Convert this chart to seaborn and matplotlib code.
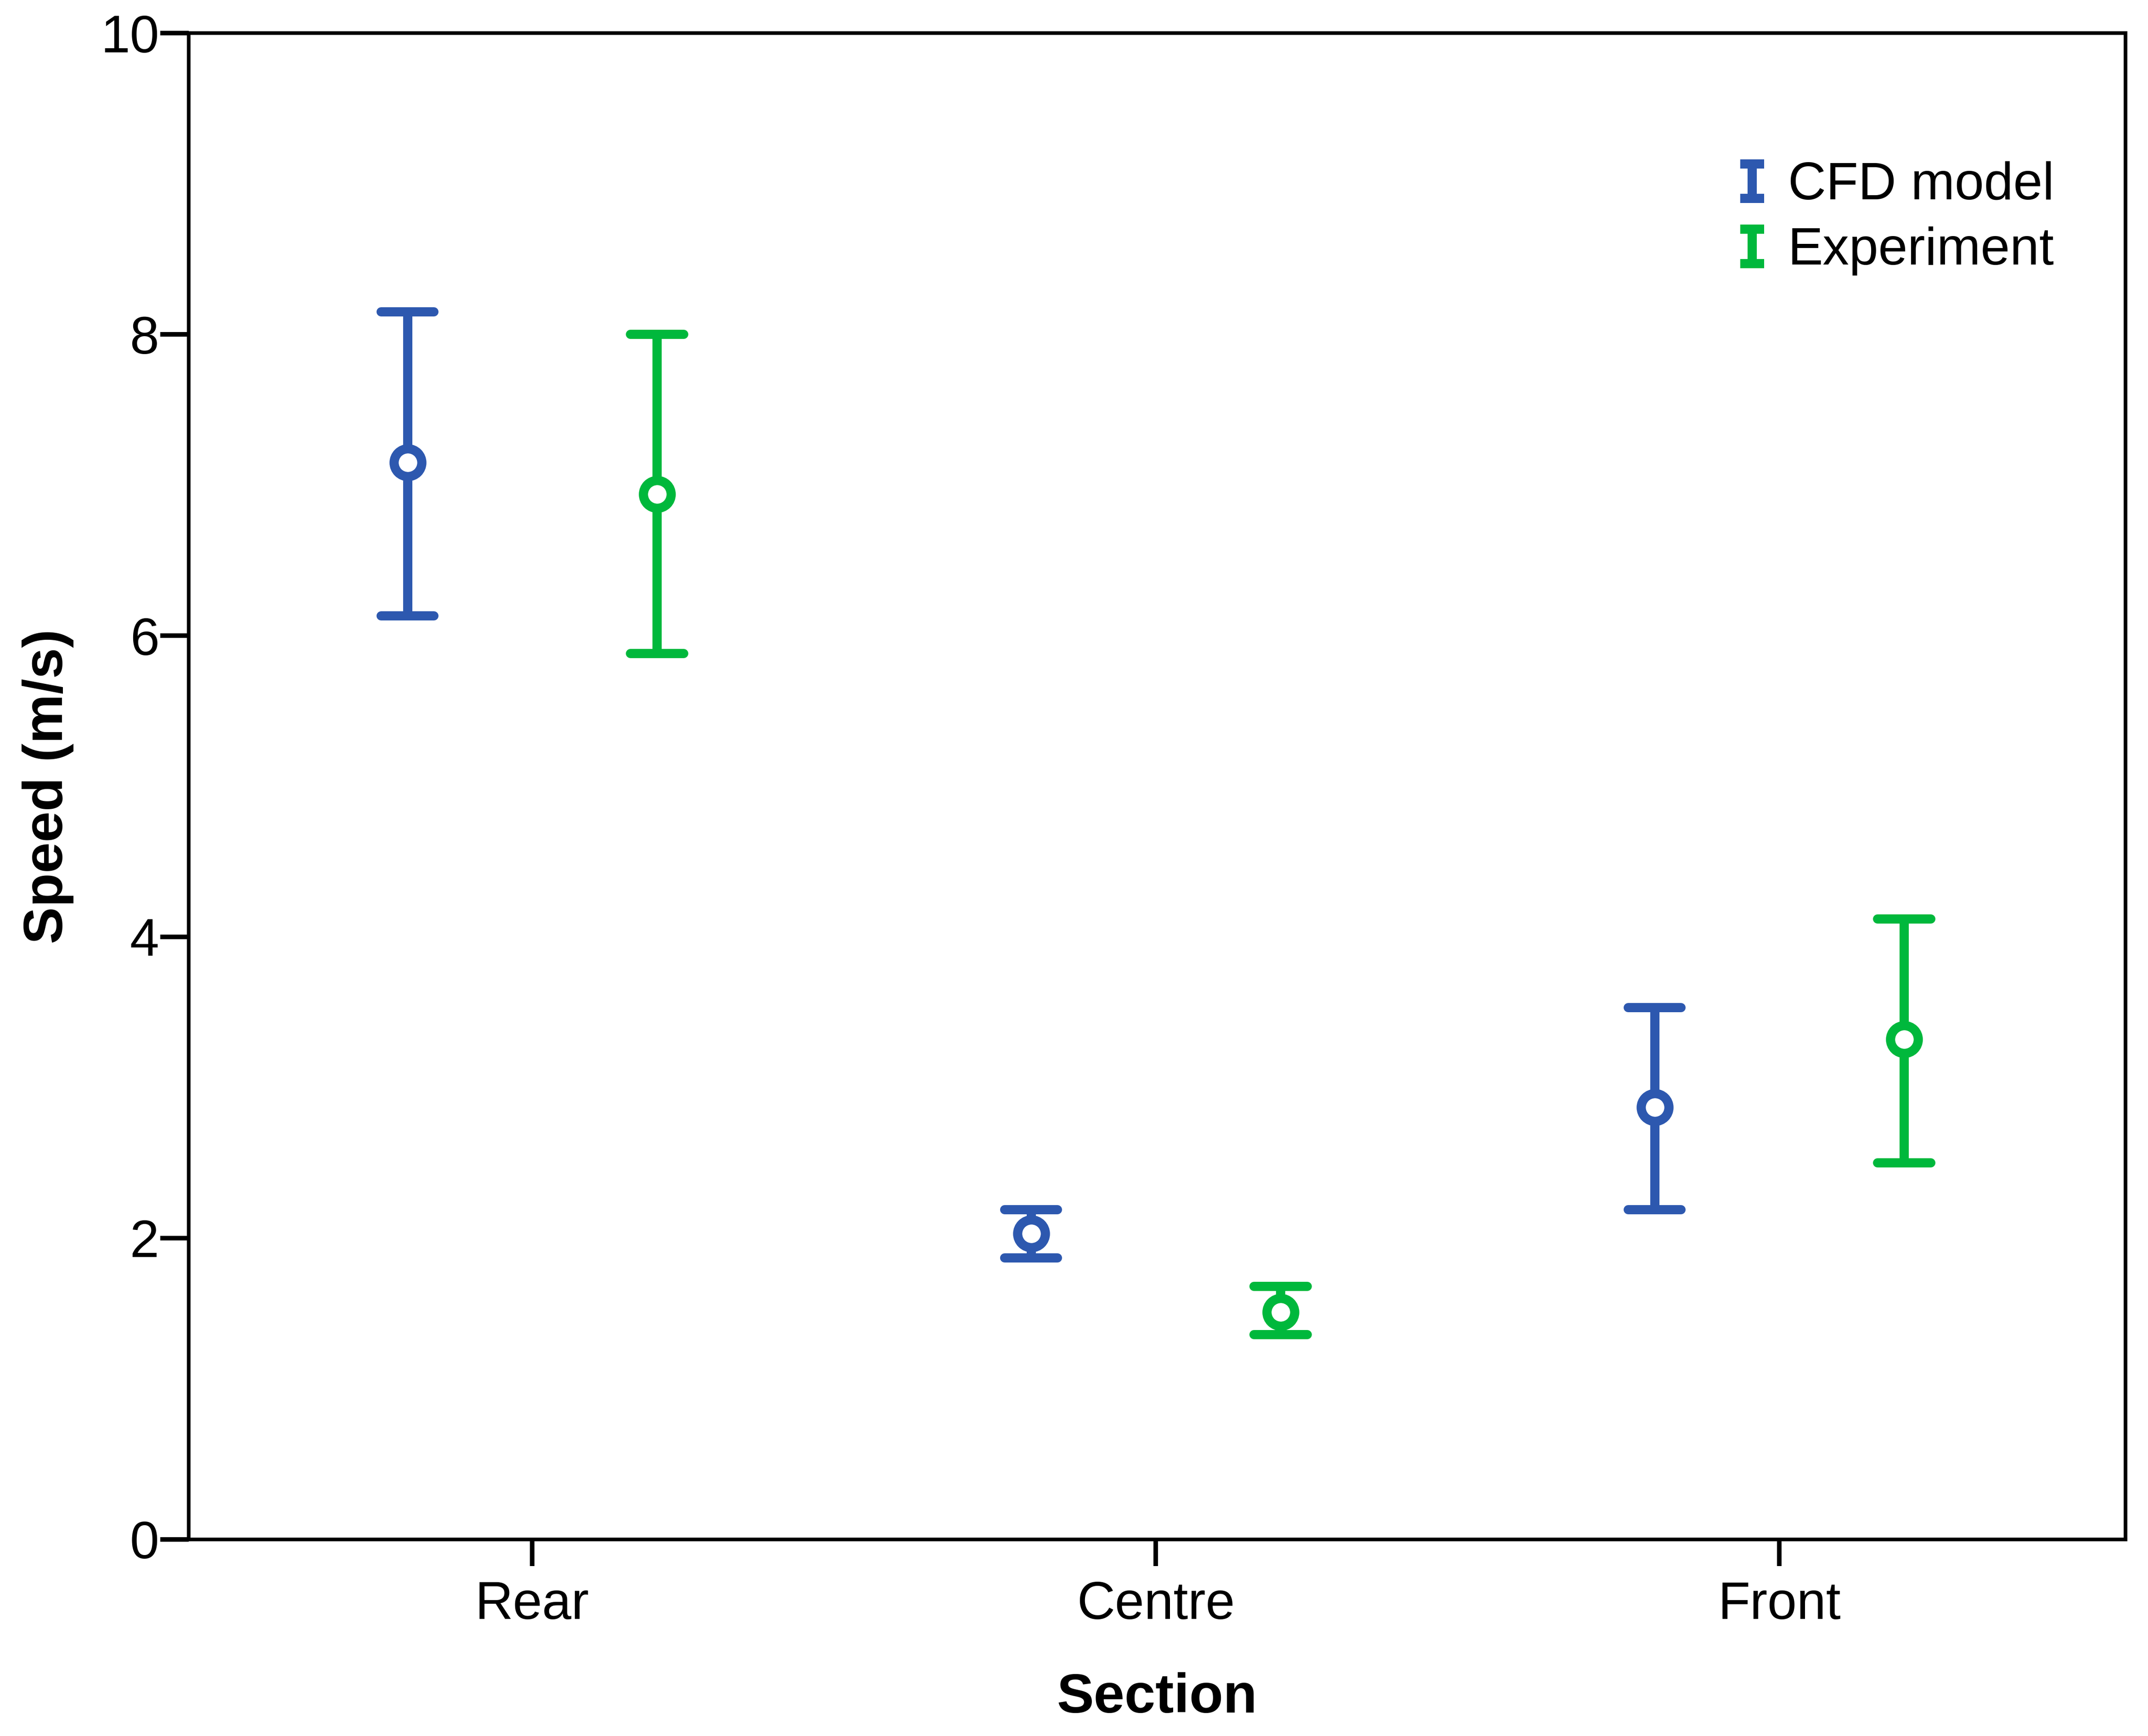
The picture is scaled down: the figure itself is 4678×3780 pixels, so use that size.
import numpy as np
import pandas as pd
import matplotlib
matplotlib.use("Agg")
import matplotlib.pyplot as plt
import seaborn as sns
from matplotlib.path import Path
from matplotlib.lines import Line2D

# summary values (mean with lower / upper error limits)
sections = ["Rear", "Centre", "Front"]
sources = ["CFD model", "Experiment"]
cfd_mean = [7.15, 2.03, 2.87]
cfd_low = [6.13, 1.87, 2.19]
cfd_high = [8.15, 2.19, 3.53]
exp_mean = [6.94, 1.51, 3.32]
exp_low = [5.88, 1.36, 2.50]
exp_high = [8.00, 1.68, 4.12]
y_ticks = [0, 2, 4, 6, 8, 10]

palette = {"CFD model": "#2D58AF", "Experiment": "#00B83C"}

# long table: low / mean / high per group, so median = mean and min/max = error limits
rows = []
for src, means, lows, highs in [("CFD model", cfd_mean, cfd_low, cfd_high),
                                ("Experiment", exp_mean, exp_low, exp_high)]:
    for sec, m, lo, hi in zip(sections, means, lows, highs):
        for v in (lo, m, hi):
            rows.append({"section": sec, "source": src, "speed": v})
df = pd.DataFrame(rows)

sns.set_style("ticks")
plt.rcParams["font.family"] = ["Liberation Sans", "DejaVu Sans"]
plt.rcParams["text.color"] = "black"
plt.rcParams["axes.labelcolor"] = "black"
plt.rcParams["xtick.color"] = "black"
plt.rcParams["ytick.color"] = "black"

fig = plt.figure(figsize=(4678 / 300, 3780 / 300), dpi=300)
ax = fig.add_axes([0.08786, 0.11323, 0.90167, 0.86772])

lw = 4.8
sns.pointplot(data=df, x="section", y="speed", hue="source",
              order=sections, hue_order=sources, palette=palette,
              estimator="median", errorbar=lambda v: (v.min(), v.max()),
              dodge=0.4, linestyle="none", markers="o", capsize=0.085,
              linewidth=lw, markersize=14.5, markeredgewidth=lw,
              markerfacecolor="white", err_kws={"linewidth": lw},
              legend=False, ax=ax)

# points above the error bars
for line in ax.lines:
    if line.get_marker() not in (None, "None", "", " "):
        line.set_zorder(5)
        line.set_markerfacecolor("white")

ax.set_xlim(-0.551, 2.555)
ax.set_ylim(0, 10)
ax.set_yticks(y_ticks)
ax.set_yticklabels([str(t) for t in y_ticks])

for sp in ax.spines.values():
    sp.set_visible(True)
    sp.set_linewidth(1.9)
    sp.set_color("black")

ax.tick_params(axis="y", length=15, width=2.4, pad=0.5, labelsize=27.5)
ax.tick_params(axis="x", length=14, width=2.4, pad=7.6, labelsize=27.5)

ax.set_xlabel("Section", fontsize=29, fontweight="bold", labelpad=22)
ax.set_ylabel("Speed (m/s)", fontsize=29, fontweight="bold", labelpad=14)

# legend with I-shaped error bar glyphs
ibar = Path([(-0.68, 1), (0.68, 1), (0, 1), (0, -1), (-0.68, -1), (0.68, -1)],
            [Path.MOVETO, Path.LINETO, Path.MOVETO, Path.LINETO, Path.MOVETO, Path.LINETO])
handles = [Line2D([], [], linestyle="none", marker=ibar, markersize=18,
                  markeredgewidth=lw, markeredgecolor=palette[s], markerfacecolor="none")
           for s in sources]
ax.legend(handles, sources, loc="upper left", bbox_to_anchor=(0.7991, 0.9150),
          frameon=False, fontsize=27.5, handlelength=0.6, handletextpad=0.38,
          labelspacing=0.31, borderpad=0, borderaxespad=0)

fig.savefig("out.png", dpi=300, facecolor="white")
plt.close(fig)
